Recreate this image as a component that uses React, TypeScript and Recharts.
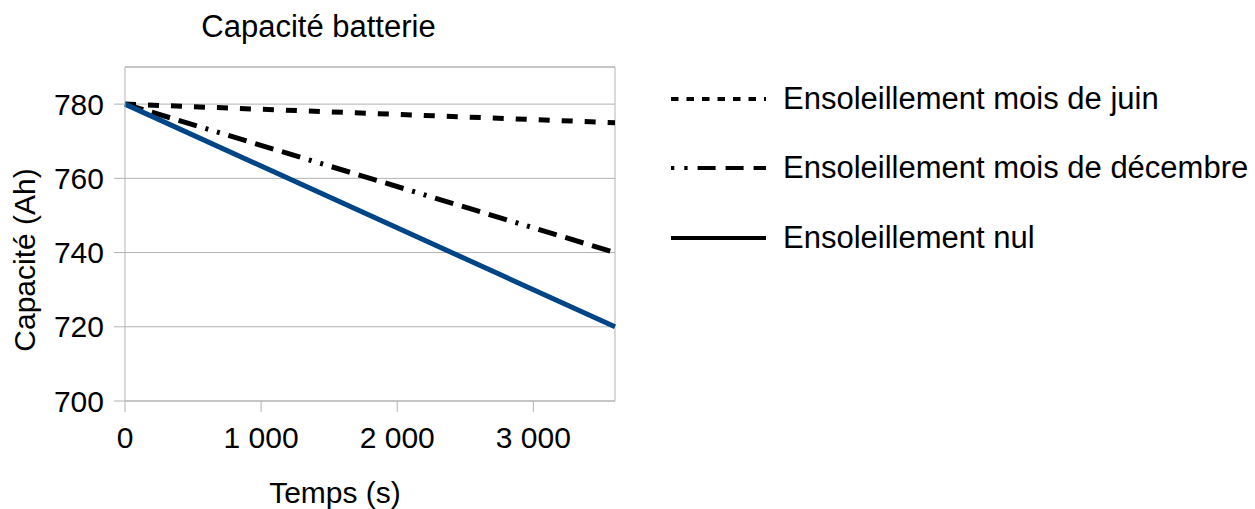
import { LineChart, Line, XAxis, YAxis, CartesianGrid, ReferenceLine } from "recharts";

const TEMPS = [0, 3600];
const JUIN = [780, 775];
const DECEMBRE = [780, 740];
const NUL = [780, 720];

const X_TICKS = [0, 1000, 2000, 3000];
const Y_TICKS = [700, 720, 740, 760, 780];

const SERIES = [
  {
    key: "juin",
    name: "Ensoleillement mois de juin",
    color: "#000000",
    dash: "11 12",
    legendDash: "7.5 8",
    legendOffset: 0,
  },
  {
    key: "decembre",
    name: "Ensoleillement mois de décembre",
    color: "#000000",
    dash: "19 9 19 9 19 9 3 9 3 9",
    legendDash: "18 10 18 10 18 10 3.3 10 3.3 10",
    legendOffset: 84,
  },
  {
    key: "nul",
    name: "Ensoleillement nul",
    color: "#004586",
    dash: undefined,
    legendDash: undefined,
    legendOffset: 0,
  },
];

const data = TEMPS.map((t, i) => ({
  t,
  juin: JUIN[i],
  decembre: DECEMBRE[i],
  nul: NUL[i],
}));

const FONT = "'Liberation Sans', Arial, sans-serif";
const GRID = "#b3b3b3";

const fmtThousands = (v: number) =>
  String(v).replace(/\B(?=(\d{3})+(?!\d))/g, " ");

function ChartLegend() {
  return (
    <div
      style={{
        position: "absolute",
        left: 671,
        top: 65,
        fontFamily: FONT,
        fontSize: 31,
        color: "#000",
      }}
    >
      {SERIES.map((s, i) => (
        <div
          key={s.key}
          style={{
            display: "flex",
            alignItems: "center",
            height: i === 0 ? 68 : 70,
            whiteSpace: "nowrap",
          }}
        >
          <svg width={95} height={10} style={{ marginRight: 17 }}>
            <line
              x1={0}
              y1={5}
              x2={95}
              y2={5}
              stroke="#000"
              strokeWidth={4}
              strokeDasharray={s.legendDash}
              strokeDashoffset={s.legendOffset}
            />
          </svg>
          <span>{s.name}</span>
        </div>
      ))}
    </div>
  );
}

export default function App() {
  return (
    <div style={{ position: "relative", width: 1255, height: 509, background: "#fff" }}>
      <style>{"body{margin:0}"}</style>
      <LineChart
        width={1255}
        height={509}
        data={data}
        margin={{ top: 67, right: 640, bottom: 0, left: 0 }}
        style={{ fontFamily: FONT }}
      >
        <CartesianGrid vertical={false} stroke={GRID} />
        <XAxis
          dataKey="t"
          type="number"
          domain={[0, 3600]}
          ticks={X_TICKS}
          interval={0}
          tickFormatter={fmtThousands}
          height={108}
          tickSize={11}
          tickMargin={15}
          stroke={GRID}
          tick={{ fill: "#000", fontSize: 30 }}
          label={{
            content: () => (
              <text x={335} y={503} textAnchor="middle" fontSize={30} fill="#000">
                Temps (s)
              </text>
            ),
          }}
        />
        <YAxis
          type="number"
          domain={[700, 790]}
          ticks={Y_TICKS}
          interval={0}
          width={125}
          tickSize={11}
          tickMargin={10}
          stroke={GRID}
          tick={{ fill: "#000", fontSize: 30 }}
          label={{
            content: () => (
              <text
                x={35}
                y={260}
                transform="rotate(-90 35 260)"
                textAnchor="middle"
                fontSize={30}
                fill="#000"
              >
                Capacité (Ah)
              </text>
            ),
          }}
        />
        <ReferenceLine y={790} stroke={GRID} />
        <ReferenceLine x={3600} stroke={GRID} />
        {SERIES.map((s) => (
          <Line
            key={s.key}
            dataKey={s.key}
            name={s.name}
            type="linear"
            stroke={s.color}
            strokeWidth={5}
            strokeDasharray={s.dash}
            dot={false}
            activeDot={false}
            isAnimationActive={false}
          />
        ))}
      </LineChart>
      <div
        style={{
          position: "absolute",
          left: 0,
          top: 9,
          width: 637,
          textAlign: "center",
          fontFamily: FONT,
          fontSize: 31,
          color: "#000",
        }}
      >
        Capacité batterie
      </div>
      <ChartLegend />
    </div>
  );
}
